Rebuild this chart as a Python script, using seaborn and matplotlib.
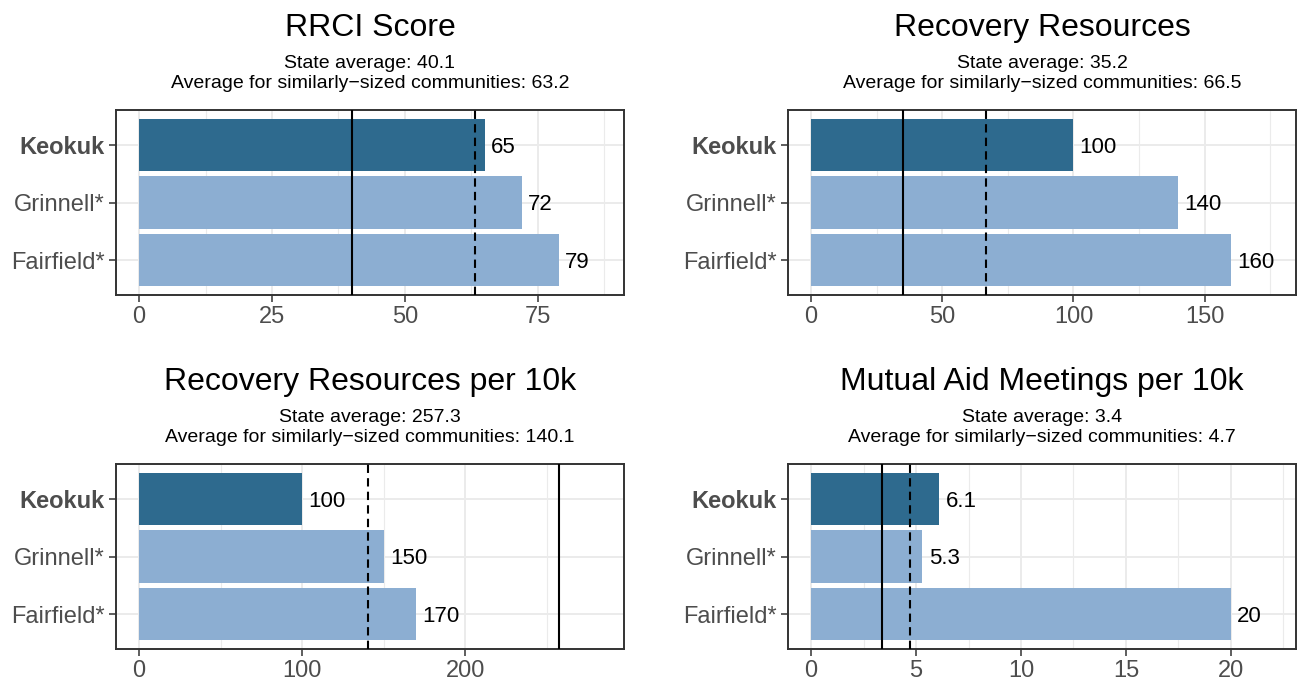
import matplotlib
matplotlib.use("Agg")
import matplotlib.pyplot as plt
import seaborn as sns
import pandas as pd
from matplotlib.ticker import AutoMinorLocator

# chart data
communities = ["Keokuk", "Grinnell*", "Fairfield*"]
titles = ["RRCI Score", "Recovery Resources",
          "Recovery Resources per 10k", "Mutual Aid Meetings per 10k"]
rrci_score = [65, 72, 79]
recovery_resources = [100, 140, 160]
resources_per_10k = [100, 150, 170]
meetings_per_10k = [6.1, 5.3, 20]
bar_labels = [["65", "72", "79"], ["100", "140", "160"],
              ["100", "150", "170"], ["6.1", "5.3", "20"]]
state_avg = [40.1, 35.2, 257.3, 3.4]
similar_avg = [63.2, 66.5, 140.1, 4.7]
x_ticks = [[0, 25, 50, 75], [0, 50, 100, 150], [0, 100, 200], [0, 5, 10, 15, 20]]

series = [rrci_score, recovery_resources, resources_per_10k, meetings_per_10k]
colors = ["#2E6A8E", "#8CAED2", "#8CAED2"]

sns.set_theme(style="white")
plt.rcParams['font.family'] = ['Liberation Sans', 'DejaVu Sans']

W, H = 1297, 684
fig = plt.figure(figsize=(W / 100, H / 100), dpi=100)

# panel boxes in pixels: left, top, right, bottom
boxes = [(116, 110, 624, 295), (788, 110, 1296, 295),
         (116, 464, 624, 649), (788, 464, 1296, 649)]

for i, (l, t, r, b) in enumerate(boxes):
    ax = fig.add_axes([l / W, 1 - b / H, (r - l) / W, (b - t) / H])
    df = pd.DataFrame({"community": communities, "value": series[i]})
    sns.barplot(data=df, x="value", y="community", hue="community",
                palette=colors, width=0.9, legend=False, ax=ax,
                saturation=1, linewidth=0, zorder=2)

    m = max(series[i] + [state_avg[i], similar_avg[i]]) * 1.1
    ax.set_xlim(-0.05 * m, 1.05 * m)
    ax.set_ylim(2.6, -0.6)
    ax.set_xticks(x_ticks[i])
    ax.xaxis.set_minor_locator(AutoMinorLocator(2))

    ax.axvline(state_avg[i], color="black", lw=1.5, zorder=3)
    ax.axvline(similar_avg[i], color="black", lw=1.5, ls=(0, (4, 2.5)), zorder=3)

    for j, v in enumerate(series[i]):
        ax.annotate(bar_labels[i][j], (v, j), xytext=(4.5, 0),
                    textcoords="offset points", va="center_baseline", ha="left",
                    fontsize=16, color="black")

    ax.grid(which="major", axis="both", color="#EBEBEB", lw=1.4)
    ax.grid(which="minor", axis="x", color="#EBEBEB", lw=0.8)
    ax.set_axisbelow(True)
    ax.set_xlabel("")
    ax.set_ylabel("")
    ax.tick_params(which="major", length=5, width=1.1, color="#333333",
                   labelcolor="#4D4D4D", labelsize=17,
                   bottom=True, left=True)
    ax.tick_params(axis="x", pad=3)
    ax.tick_params(axis="y", pad=3)
    ax.tick_params(which="minor", length=0)
    ax.get_yticklabels()[0].set_fontweight("bold")
    for s in ax.spines.values():
        s.set_color("#333333")
        s.set_linewidth(1.4)

    cx = (l + r) / 2 / W
    fig.text(cx, 1 - (t - 74) / H, titles[i], ha="center", va="baseline",
             fontsize=23, color="black")
    fig.text(cx, 1 - (t - 42) / H, f"State average: {state_avg[i]}",
             ha="center", va="baseline", fontsize=14, color="black")
    fig.text(cx, 1 - (t - 22) / H,
             f"Average for similarly\u2212sized communities: {similar_avg[i]}",
             ha="center", va="baseline", fontsize=14, color="black")

fig.savefig("out.png", dpi=100)
